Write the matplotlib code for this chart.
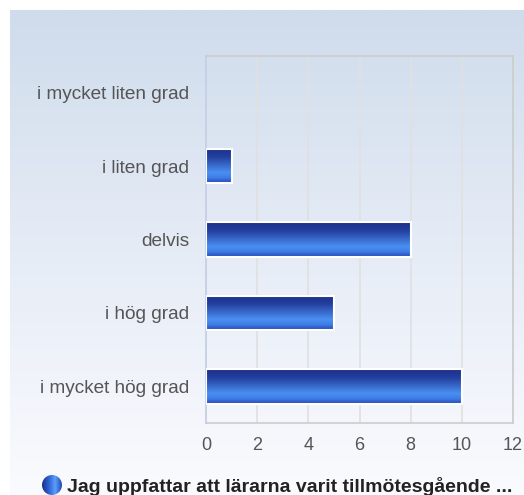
import numpy as np
import matplotlib
matplotlib.use("Agg")
import matplotlib.pyplot as plt
from matplotlib.colors import LinearSegmentedColormap
from matplotlib.patches import Rectangle, Circle

categories = ["i mycket liten grad", "i liten grad", "delvis", "i hög grad", "i mycket hög grad"]
values = [0, 1, 8, 5, 10]
xticks = [0, 2, 4, 6, 8, 10, 12]
legend_label = "Jag uppfattar att lärarna varit tillmötesgående ..."

plt.rcParams['font.family'] = ['Liberation Sans', 'DejaVu Sans']

W, H = 524, 495
fig = plt.figure(figsize=(W / 100, H / 100), dpi=100)
fig.patch.set_facecolor("white")

# background panel gradient
bg = fig.add_axes([10 / W, 0, 1 - 10 / W, 1 - 10 / H])
bg.set_axis_off()
grad = np.linspace(0, 1, 256).reshape(-1, 1)
bg_cmap = LinearSegmentedColormap.from_list("bg", ["#fafbfe", "#e6ecf6", "#cfdcec"])
bg.imshow(grad, aspect="auto", cmap=bg_cmap, origin="lower", extent=[0, 1, 0, 1])
bg.set_xlim(0, 1)
bg.set_ylim(0, 1)

ax = fig.add_axes([206 / W, 1 - 423 / H, (513 - 206) / W, (423 - 56) / H])
ax.patch.set_alpha(0)
n = len(categories)
ypos = np.arange(n)
ax.set_xlim(0, 12)
ax.set_ylim(n - 0.5, -0.5)
ax.set_xticks(xticks)
ax.set_xticklabels([str(t) for t in xticks])
ax.set_yticks(ypos)
ax.set_yticklabels(categories)
ax.tick_params(axis="both", length=0, colors="#555555")
ax.tick_params(axis="x", labelsize=13, pad=10)
ax.tick_params(axis="y", labelsize=13.7, pad=12)
ax.grid(axis="x", color="#e0e0e0", linewidth=1.2, zorder=0)
ax.set_axisbelow(True)
for s in ["top", "right", "bottom"]:
    ax.spines[s].set_color("#cccccc")
    ax.spines[s].set_linewidth(1.2)
ax.spines["left"].set_color("#c3cde6")
ax.spines["left"].set_linewidth(1.2)

# colours listed from the top edge of a bar to its bottom edge
bar_cmap = LinearSegmentedColormap.from_list(
    "bar", [(0.0, "#1c2f8a"), (0.25, "#24409f"), (0.7, "#4a8ff2"), (0.85, "#3f7de6"), (1.0, "#2447b5")])
bh = 0.47
grad_v = np.linspace(0, 1, 100).reshape(-1, 1)
for y, v in zip(ypos, values):
    if v <= 0:
        continue
    rect = Rectangle((0, y - bh / 2), v, bh, facecolor="none", edgecolor="white", linewidth=1.5, zorder=4)
    ax.add_patch(rect)
    im = ax.imshow(grad_v, aspect="auto", cmap=bar_cmap, extent=[0, v, y + bh / 2, y - bh / 2],
                   origin="upper", zorder=3, interpolation="bilinear")
    im.set_clip_path(rect)
ax.set_xlim(0, 12)
ax.set_ylim(n - 0.5, -0.5)

# legend
leg = fig.add_axes([0, 0, 1, 1])
leg.set_axis_off()
leg.set_xlim(0, W)
leg.set_ylim(H, 0)
cx, cy, r = 52, 485, 10
circ = Circle((cx, cy), r, facecolor="none", edgecolor="none")
leg.add_patch(circ)
hg = np.linspace(0, 1, 100).reshape(1, -1)
circ_cmap = LinearSegmentedColormap.from_list("c", ["#1c2f8a", "#2f5fd0", "#5aa0f8", "#2447b5"])
im = leg.imshow(hg, aspect="auto", cmap=circ_cmap, extent=[cx - r, cx + r, cy + r, cy - r], zorder=3)
im.set_clip_path(circ)
leg.text(67, 487, legend_label, fontsize=14, fontweight="bold", color="#222222", va="center", ha="left")
leg.set_xlim(0, W)
leg.set_ylim(H, 0)

fig.savefig("out.png", dpi=100)
